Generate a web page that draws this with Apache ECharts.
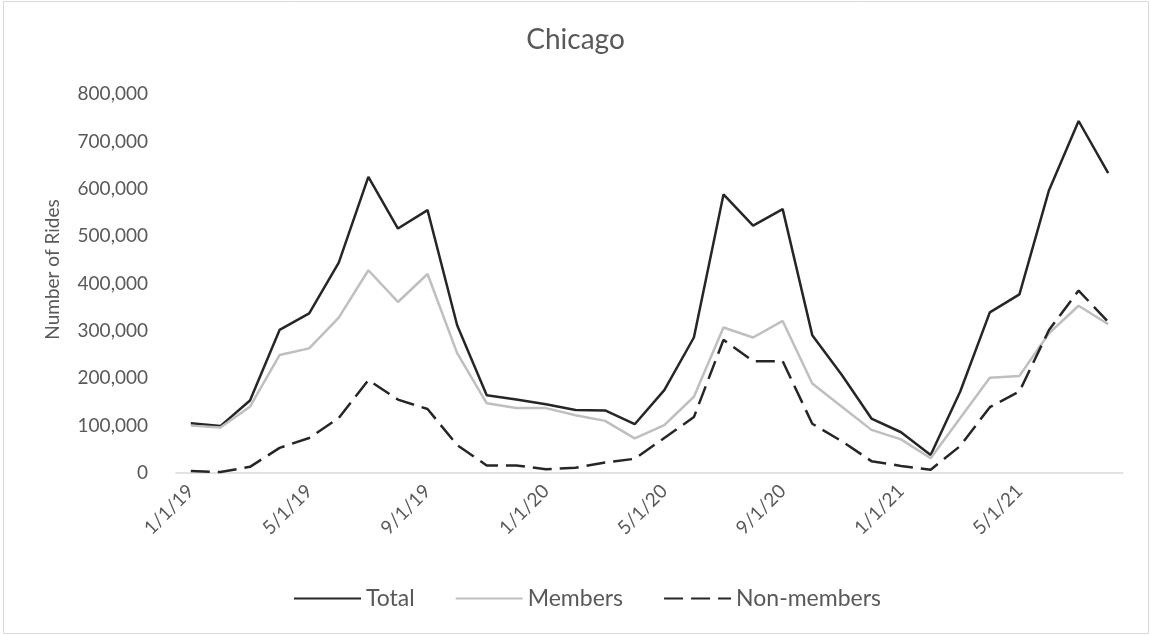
<!DOCTYPE html>
<html>
<head>
<meta charset="utf-8">
<script src="https://cdn.jsdelivr.net/npm/echarts@6/dist/echarts.min.js"></script>
<style>
  html, body { margin: 0; padding: 0; background: #fff; }
  #chart { width: 1151px; height: 636px; }
</style>
</head>
<body>
<div id="chart"></div>
<script>
// monthly categories, Jan 2019 - Aug 2021
const months = [
    '1/1/19', '2/1/19', '3/1/19', '4/1/19', '5/1/19', '6/1/19', '7/1/19', '8/1/19',
    '9/1/19', '10/1/19', '11/1/19', '12/1/19', '1/1/20', '2/1/20', '3/1/20', '4/1/20',
    '5/1/20', '6/1/20', '7/1/20', '8/1/20', '9/1/20', '10/1/20', '11/1/20', '12/1/20',
    '1/1/21', '2/1/21', '3/1/21', '4/1/21', '5/1/21', '6/1/21', '7/1/21', '8/1/21'
];

const total = [
    105000, 99000, 153000, 302000, 337000, 444000, 625000, 516000,
    555000, 312000, 164000, 155000, 145000, 133000, 132000, 103000,
    175000, 286000, 588000, 522000, 557000, 291000, 207000, 115000,
    86000, 38000, 172000, 339000, 377000, 597000, 743000, 633000
];

const members = [
    100000, 96000, 140000, 249000, 263000, 328000, 428000, 361000,
    420000, 253000, 147000, 137000, 137000, 122000, 110000, 73000,
    101000, 161000, 307000, 286000, 321000, 189000, 140000, 91000,
    71000, 31000, 116000, 201000, 205000, 295000, 353000, 314000
];

const nonMembers = [
    4000, 2000, 13000, 53000, 74000, 116000, 196000, 155000,
    135000, 59000, 16000, 16000, 8000, 11000, 22000, 30000,
    74000, 118000, 281000, 236000, 236000, 104000, 67000, 25000,
    15000, 7000, 57000, 139000, 172000, 302000, 385000, 319000
];

const chart = echarts.init(document.getElementById('chart'));
const txt = '#595959';
const font = 'Lato';

const option = {
    animation: false,
    backgroundColor: '#fff',
    graphic: [{
        type: 'rect',
        shape: { x: 3.5, y: 1.5, width: 1145, height: 632 },
        style: { fill: 'none', stroke: '#d9d9d9', lineWidth: 1 }
    }],
    title: {
        text: 'Chicago',
        left: 'center',
        top: 21,
        textStyle: { color: txt, fontFamily: font, fontSize: 28, fontWeight: 'normal' }
    },
    legend: {
        left: 293,
        top: 587,
        padding: 0,
        itemWidth: 67,
        itemHeight: 14,
        itemGap: 40,
        itemStyle: { opacity: 0 },
        textStyle: { color: txt, fontFamily: font, fontSize: 23 },
        data: ['Total', 'Members', 'Non-members']
    },
    grid: { left: 176, right: 28, top: 94, bottom: 163 },
    xAxis: {
        type: 'category',
        data: months,
        boundaryGap: true,
        axisLine: { lineStyle: { color: '#d9d9d9', width: 1.5 } },
        axisTick: { interval: 3, length: 7, lineStyle: { color: '#d9d9d9', width: 1.5 } },
        axisLabel: {
            interval: 3,
            rotate: 45,
            margin: 15,
            color: txt,
            fontFamily: font,
            fontSize: 19
        }
    },
    yAxis: {
        type: 'value',
        min: 0,
        max: 800000,
        interval: 100000,
        name: 'Number of Rides',
        nameLocation: 'middle',
        nameRotate: 90,
        nameGap: 114,
        nameTextStyle: { color: txt, fontFamily: font, fontSize: 19, padding: [0, 0, 0, 28] },
        axisLine: { show: false },
        axisTick: { show: false },
        splitLine: { show: false },
        axisLabel: {
            margin: 28,
            color: txt,
            fontFamily: font,
            fontSize: 19,
            formatter: v => v.toLocaleString('en-US')
        }
    },
    series: [
        {
            name: 'Total',
            type: 'line',
            data: total,
            showSymbol: false,
            symbol: 'circle',
            color: '#262626',
            lineStyle: { color: '#262626', width: 2.5 }
        },
        {
            name: 'Members',
            type: 'line',
            data: members,
            showSymbol: false,
            symbol: 'circle',
            color: '#bfbfbf',
            lineStyle: { color: '#bfbfbf', width: 2.5 }
        },
        {
            name: 'Non-members',
            type: 'line',
            data: nonMembers,
            showSymbol: false,
            symbol: 'circle',
            color: '#262626',
            lineStyle: { color: '#262626', width: 2.5, type: [19, 8] }
        }
    ]
};

chart.setOption(option);
</script>
</body>
</html>
